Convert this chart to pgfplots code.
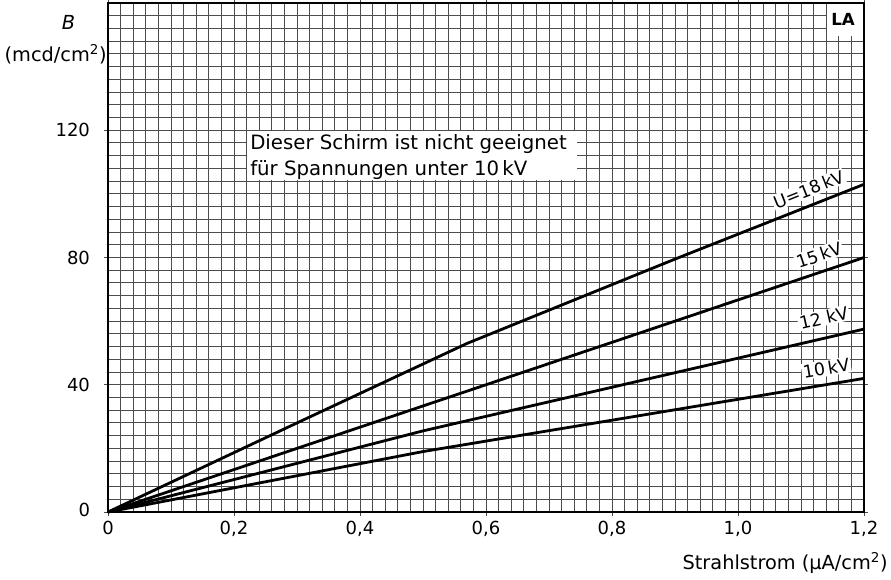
\documentclass[border=0pt]{standalone}
\usepackage{fontspec}
\setmainfont{DejaVu Sans}
\usepackage{pgfplots}
\pgfplotsset{compat=1.18}
\begin{document}
\begin{tikzpicture}
\useasboundingbox (-81pt,-50.25pt) rectangle (587.25pt,384pt);
\begin{axis}[
  at={(0,0)}, anchor=south west,
  scale only axis, width=567pt, height=381.75pt,
  xmin=0, xmax=1.2, ymin=0, ymax=160,
  xtick={0,0.2,0.4,0.6,0.8,1.0,1.2},
  xticklabels={0,{0,2},{0,4},{0,6},{0,8},{1,0},{1,2}},
  ytick={0,40,80,120},
  yticklabels={\raisebox{3pt}{0},40,80,120},
  minor xtick={0.02,0.04,...,1.19},
  minor ytick={4,8,...,159},
  grid=both,
  minor grid style={black!70, line width=0.75pt},
  major grid style={black!70, line width=0.75pt},
  tick align=outside, major tick length=3pt, minor tick length=0pt,
  axis line style={line width=1.2pt},
  tick style={black!70, line width=0.75pt},
  ticklabel style={font=\fontsize{13.5}{15}\selectfont},
  /pgf/number format/assume math mode=true,
  yticklabel style={xshift=-7pt},
  clip=false,
]
% white fields (drawn before the curves)
\fill[white] (axis cs:0.2206,104.3) rectangle (axis cs:0.744,119.7);
\node[anchor=base west, inner sep=0pt, font=\fontsize{14.8}{17}\selectfont] at (axis cs:0.2254,113.8) {Dieser Schirm ist nicht geeignet};
\node[anchor=base west, inner sep=0pt, font=\fontsize{14.8}{17}\selectfont] at (axis cs:0.2254,105.9) {für Spannungen unter 10\,kV};
\fill[white] (axis cs:1.141,149.5) rectangle (axis cs:1.2,160);
\node[font=\fontsize{12.5}{14}\selectfont\bfseries] at (axis cs:1.1667,154.8) {LA};
\node[fill=white, inner sep=1pt, rotate=21.7, font=\fontsize{13}{15}\selectfont] at (axis cs:1.112,101.4) {U=18\,kV};
\node[fill=white, inner sep=1pt, rotate=18.5, font=\fontsize{13}{15}\selectfont] at (axis cs:1.1285,80.8) {15\,kV};
\node[fill=white, inner sep=1pt, rotate=12.9, font=\fontsize{13}{15}\selectfont] at (axis cs:1.136,61.0) {12 kV};
\node[fill=white, inner sep=1pt, rotate=9.4, font=\fontsize{13}{15}\selectfont] at (axis cs:1.14,45.2) {10\,kV};
% curves
\addplot[line width=2.1pt, black] coordinates {(0,0) (0.3,28) (0.57,53) (0.9,79.5) (1.2,103)};
\addplot[line width=2.1pt, black] coordinates {(0,0) (0.6,40) (1.2,80)};
\addplot[line width=2.1pt, black] coordinates {(0,0) (0.5,25.5) (1.2,57.5)};
\addplot[line width=2.1pt, black] coordinates {(0,0) (0.5,19) (1.2,42)};
% frame and axis titles
\draw[line width=1.3pt] (rel axis cs:0,0) rectangle (rel axis cs:1,1);
\node[font=\fontsize{14.5}{17}\selectfont\itshape] at (axis cs:-0.0627,153.9) {B};
\node[anchor=east, inner sep=0pt, font=\fontsize{14.5}{17}\selectfont] at (axis cs:-0.0016,143.8) {(mcd/cm\textsuperscript{2})};
\node[anchor=east, inner sep=0pt, xshift=18pt, yshift=-38pt, font=\fontsize{14.5}{17}\selectfont] at (axis cs:1.2,0) {Strahlstrom (µA/cm\textsuperscript{2})};
\end{axis}
\end{tikzpicture}
\end{document}
